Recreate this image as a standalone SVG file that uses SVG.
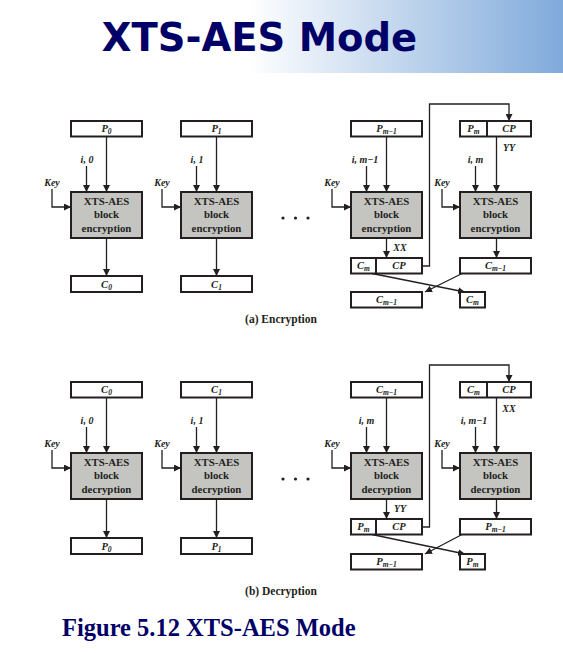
<svg xmlns="http://www.w3.org/2000/svg" width="563" height="653" viewBox="0 0 563 653">
<defs>
<linearGradient id="band" x1="0" y1="0" x2="1" y2="0">
<stop offset="0.44" stop-color="#ffffff"/>
<stop offset="1" stop-color="#80aadb"/>
</linearGradient>
<marker id="ah" viewBox="0 0 10 10" refX="10" refY="5" markerWidth="7" markerHeight="7" markerUnits="userSpaceOnUse" orient="auto">
<path d="M0,0 L10,5 L0,10 z" fill="#231f20"/>
</marker>
<style>
.box{fill:#fff;stroke:#231f20;stroke-width:2}
.blk{fill:#c4c4c0;stroke:#231f20;stroke-width:2}
.ln{fill:none;stroke:#231f20;stroke-width:2}
.ar{fill:none;stroke:#231f20;stroke-width:1.3;marker-end:url(#ah)}
.t{font-family:"Liberation Serif",serif;font-weight:bold;font-size:10.8px;fill:#231f20;text-anchor:middle}
.m{font-family:"Liberation Serif",serif;font-weight:bold;font-style:italic;font-size:10.5px;fill:#231f20;text-anchor:middle}
.s{font-family:"Liberation Serif",serif;font-weight:bold;font-style:italic;font-size:10px;fill:#231f20;text-anchor:middle}
.sub{font-size:7.5px;font-style:italic;fill:#231f20}
.cap{font-family:"Liberation Serif",serif;font-weight:bold;font-size:11.5px;fill:#231f20;text-anchor:middle}
.dot{fill:#231f20}
</style>
</defs>
<rect width="563" height="653" fill="#fff"/>
<g id="title">
<rect x="0" y="0" width="563" height="73" fill="url(#band)"/>
<text x="259.5" y="51" font-family="'DejaVu Sans',Verdana,sans-serif" font-weight="bold" font-size="38.5" fill="#000066" text-anchor="middle">XTS-AES Mode</text>
</g>

<!-- ENCRYPTION -->
<g id="enc">
<g id="enc-connectors">
<path class="ar" d="M106.5,136.5 V192"/>
<path class="ar" d="M86.5,166 V192"/>
<path class="ar" d="M52,189 V207 H71"/>
<path class="ar" d="M106.5,238 V276"/>
<path class="ar" d="M216.5,136.5 V192"/>
<path class="ar" d="M196.5,166 V192"/>
<path class="ar" d="M162,189 V207 H181"/>
<path class="ar" d="M216.5,238 V276"/>
<path class="ar" d="M386.5,136.5 V192"/>
<path class="ar" d="M366.5,166 V192"/>
<path class="ar" d="M332,189 V207 H351"/>
<path class="ar" d="M386.5,238 V258"/>
<path class="ar" d="M496.5,136.5 V192"/>
<path class="ar" d="M475.5,166 V192"/>
<path class="ar" d="M442,189 V207 H460"/>
<path class="ar" d="M496.5,238 V258"/>
<path class="ar" d="M422,266 H429.5 V104 H509 V121"/>
<path class="ar" d="M372,273.5 L465,292"/>
<path class="ar" d="M462,273.5 L425,292"/>
<text class="s" x="87" y="163">i, 0</text>
<text class="s" x="197" y="163">i, 1</text>
<text class="s" x="365" y="163">i, m−1</text>
<text class="s" x="475.5" y="163">i, m</text>
<text class="s" x="52" y="186">Key</text>
<text class="s" x="162" y="186">Key</text>
<text class="s" x="332" y="186">Key</text>
<text class="s" x="442" y="186">Key</text>
<text class="s" x="400" y="251">XX</text>
<text class="s" x="509" y="151">YY</text>
</g>
<g id="enc-p0"><rect class="box" x="71" y="121" width="71" height="15.5"/><text class="m" x="106.5" y="132">P<tspan class="sub" dy="2">0</tspan></text></g>
<g id="enc-p1"><rect class="box" x="181" y="121" width="71" height="15.5"/><text class="m" x="216.5" y="132">P<tspan class="sub" dy="2">1</tspan></text></g>
<g id="enc-pm1"><rect class="box" x="351" y="121" width="71" height="15.5"/><text class="m" x="386.5" y="132">P<tspan class="sub" dy="2">m−1</tspan></text></g>
<g id="enc-pmcp"><rect class="box" x="460" y="121" width="71" height="15.5"/><line class="ln" x1="487" y1="121" x2="487" y2="136.5"/><text class="m" x="473.5" y="132">P<tspan class="sub" dy="2">m</tspan></text><text class="m" x="509" y="132">CP</text></g>
<g id="enc-b0"><rect class="blk" x="71" y="192" width="71" height="46"/><text class="t" x="106.5" y="204.5">XTS-AES</text><text class="t" x="106.5" y="218">block</text><text class="t" x="106.5" y="231.5">encryption</text></g>
<g id="enc-b1"><rect class="blk" x="181" y="192" width="71" height="46"/><text class="t" x="216.5" y="204.5">XTS-AES</text><text class="t" x="216.5" y="218">block</text><text class="t" x="216.5" y="231.5">encryption</text></g>
<g id="enc-b2"><rect class="blk" x="351" y="192" width="71" height="46"/><text class="t" x="386.5" y="204.5">XTS-AES</text><text class="t" x="386.5" y="218">block</text><text class="t" x="386.5" y="231.5">encryption</text></g>
<g id="enc-b3"><rect class="blk" x="460" y="192" width="71" height="46"/><text class="t" x="495.5" y="204.5">XTS-AES</text><text class="t" x="495.5" y="218">block</text><text class="t" x="495.5" y="231.5">encryption</text></g>
<g id="enc-c0"><rect class="box" x="71" y="276" width="71" height="16"/><text class="m" x="106.5" y="287.5">C<tspan class="sub" dy="2">0</tspan></text></g>
<g id="enc-c1"><rect class="box" x="181" y="276" width="71" height="16"/><text class="m" x="216.5" y="287.5">C<tspan class="sub" dy="2">1</tspan></text></g>
<g id="enc-cmcp"><rect class="box" x="351" y="258" width="71" height="15.5"/><line class="ln" x1="376" y1="258" x2="376" y2="273.5"/><text class="m" x="363.5" y="269">C<tspan class="sub" dy="2">m</tspan></text><text class="m" x="399" y="269">CP</text></g>
<g id="enc-cm1a"><rect class="box" x="460" y="258" width="71" height="15.5"/><text class="m" x="495.5" y="269">C<tspan class="sub" dy="2">m−1</tspan></text></g>
<g id="enc-cm1b"><rect class="box" x="351" y="292" width="71" height="15.5"/><text class="m" x="386.5" y="303">C<tspan class="sub" dy="2">m−1</tspan></text></g>
<g id="enc-cm"><rect class="box" x="460" y="292" width="25" height="15.5"/><text class="m" x="472.5" y="303">C<tspan class="sub" dy="2">m</tspan></text></g>
<g id="enc-dots"><circle class="dot" cx="283" cy="218" r="1.6"/><circle class="dot" cx="295.5" cy="218" r="1.6"/><circle class="dot" cx="308" cy="218" r="1.6"/></g>
<text class="cap" x="281" y="323">(a) Encryption</text>
</g>

<!-- DECRYPTION -->
<g id="dec" transform="translate(0,261)">
<g id="dec-connectors">
<path class="ar" d="M106.5,136.5 V192"/>
<path class="ar" d="M86.5,166 V192"/>
<path class="ar" d="M52,189 V207 H71"/>
<path class="ar" d="M106.5,238 V277"/>
<path class="ar" d="M216.5,136.5 V192"/>
<path class="ar" d="M196.5,166 V192"/>
<path class="ar" d="M162,189 V207 H181"/>
<path class="ar" d="M216.5,238 V277"/>
<path class="ar" d="M386.5,136.5 V192"/>
<path class="ar" d="M366.5,166 V192"/>
<path class="ar" d="M332,189 V207 H351"/>
<path class="ar" d="M386.5,238 V258"/>
<path class="ar" d="M496.5,136.5 V192"/>
<path class="ar" d="M475.5,166 V192"/>
<path class="ar" d="M442,189 V207 H460"/>
<path class="ar" d="M496.5,238 V258"/>
<path class="ar" d="M422,266 H429.5 V104 H509 V121"/>
<path class="ar" d="M372,273.5 L465,293"/>
<path class="ar" d="M462,273.5 L425,293"/>
<text class="s" x="87" y="163">i, 0</text>
<text class="s" x="197" y="163">i, 1</text>
<text class="s" x="366.5" y="163">i, m</text>
<text class="s" x="474" y="163">i, m−1</text>
<text class="s" x="52" y="186">Key</text>
<text class="s" x="162" y="186">Key</text>
<text class="s" x="332" y="186">Key</text>
<text class="s" x="442" y="186">Key</text>
<text class="s" x="400" y="251">YY</text>
<text class="s" x="509" y="151">XX</text>
</g>
<g id="dec-c0"><rect class="box" x="71" y="121" width="71" height="15.5"/><text class="m" x="106.5" y="132">C<tspan class="sub" dy="2">0</tspan></text></g>
<g id="dec-c1"><rect class="box" x="181" y="121" width="71" height="15.5"/><text class="m" x="216.5" y="132">C<tspan class="sub" dy="2">1</tspan></text></g>
<g id="dec-cm1"><rect class="box" x="351" y="121" width="71" height="15.5"/><text class="m" x="386.5" y="132">C<tspan class="sub" dy="2">m−1</tspan></text></g>
<g id="dec-cmcp"><rect class="box" x="460" y="121" width="71" height="15.5"/><line class="ln" x1="487" y1="121" x2="487" y2="136.5"/><text class="m" x="473.5" y="132">C<tspan class="sub" dy="2">m</tspan></text><text class="m" x="509" y="132">CP</text></g>
<g id="dec-b0"><rect class="blk" x="71" y="192" width="71" height="46"/><text class="t" x="106.5" y="204.5">XTS-AES</text><text class="t" x="106.5" y="218">block</text><text class="t" x="106.5" y="231.5">decryption</text></g>
<g id="dec-b1"><rect class="blk" x="181" y="192" width="71" height="46"/><text class="t" x="216.5" y="204.5">XTS-AES</text><text class="t" x="216.5" y="218">block</text><text class="t" x="216.5" y="231.5">decryption</text></g>
<g id="dec-b2"><rect class="blk" x="351" y="192" width="71" height="46"/><text class="t" x="386.5" y="204.5">XTS-AES</text><text class="t" x="386.5" y="218">block</text><text class="t" x="386.5" y="231.5">decryption</text></g>
<g id="dec-b3"><rect class="blk" x="460" y="192" width="71" height="46"/><text class="t" x="495.5" y="204.5">XTS-AES</text><text class="t" x="495.5" y="218">block</text><text class="t" x="495.5" y="231.5">decryption</text></g>
<g id="dec-p0"><rect class="box" x="71" y="277" width="71" height="16"/><text class="m" x="106.5" y="288.5">P<tspan class="sub" dy="2">0</tspan></text></g>
<g id="dec-p1"><rect class="box" x="181" y="277" width="71" height="16"/><text class="m" x="216.5" y="288.5">P<tspan class="sub" dy="2">1</tspan></text></g>
<g id="dec-pmcp"><rect class="box" x="351" y="258" width="71" height="15.5"/><line class="ln" x1="376" y1="258" x2="376" y2="273.5"/><text class="m" x="363.5" y="269">P<tspan class="sub" dy="2">m</tspan></text><text class="m" x="399" y="269">CP</text></g>
<g id="dec-pm1a"><rect class="box" x="460" y="258" width="71" height="15.5"/><text class="m" x="495.5" y="269">P<tspan class="sub" dy="2">m−1</tspan></text></g>
<g id="dec-pm1b"><rect class="box" x="351" y="293" width="71" height="15.5"/><text class="m" x="386.5" y="304">P<tspan class="sub" dy="2">m−1</tspan></text></g>
<g id="dec-pm"><rect class="box" x="460" y="293" width="25" height="15.5"/><text class="m" x="472.5" y="304">P<tspan class="sub" dy="2">m</tspan></text></g>
<g id="dec-dots"><circle class="dot" cx="283" cy="218" r="1.6"/><circle class="dot" cx="295.5" cy="218" r="1.6"/><circle class="dot" cx="308" cy="218" r="1.6"/></g>
</g>
<text class="cap" x="281" y="594.5">(b) Decryption</text>
<text x="62" y="636" font-family="'Liberation Serif',serif" font-weight="bold" font-size="24.5" fill="#000066">Figure 5.12 XTS-AES Mode</text>
</svg>
